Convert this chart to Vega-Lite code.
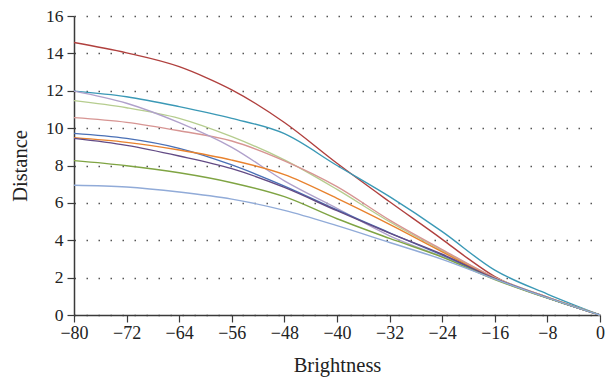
{
  "$schema": "https://vega.github.io/schema/vega-lite/v6.json",
  "autosize": "none",
  "width": 526,
  "height": 299,
  "padding": {"left": 74, "top": 16, "right": 8, "bottom": 70},
  "background": "white",
  "config": {
    "view": {"stroke": null},
    "font": "Liberation Serif"
  },
  "data": {
    "values": [
      {"s": "a", "x": -80, "y": 14.58}, {"s": "a", "x": -72, "y": 14.03}, {"s": "a", "x": -64, "y": 13.29}, {"s": "a", "x": -60, "y": 12.72}, {"s": "a", "x": -56, "y": 12.05}, {"s": "a", "x": -48, "y": 10.3}, {"s": "a", "x": -40, "y": 8.12}, {"s": "a", "x": -32, "y": 6.06}, {"s": "a", "x": -24, "y": 4.05}, {"s": "a", "x": -20, "y": 3.0}, {"s": "a", "x": -16, "y": 2.05}, {"s": "a", "x": -8, "y": 0.95}, {"s": "a", "x": 0, "y": 0},
      {"s": "b", "x": -80, "y": 11.98}, {"s": "b", "x": -72, "y": 11.68}, {"s": "b", "x": -64, "y": 11.15}, {"s": "b", "x": -56, "y": 10.52}, {"s": "b", "x": -48, "y": 9.7}, {"s": "b", "x": -40, "y": 8.0}, {"s": "b", "x": -32, "y": 6.33}, {"s": "b", "x": -24, "y": 4.46}, {"s": "b", "x": -16, "y": 2.4}, {"s": "b", "x": -8, "y": 1.12}, {"s": "b", "x": 0, "y": 0},
      {"s": "c", "x": -80, "y": 11.47}, {"s": "c", "x": -72, "y": 11.09}, {"s": "c", "x": -64, "y": 10.52}, {"s": "c", "x": -56, "y": 9.54}, {"s": "c", "x": -48, "y": 8.3}, {"s": "c", "x": -40, "y": 6.72}, {"s": "c", "x": -32, "y": 4.99}, {"s": "c", "x": -24, "y": 3.45}, {"s": "c", "x": -16, "y": 2.0}, {"s": "c", "x": -8, "y": 0.95}, {"s": "c", "x": 0, "y": 0},
      {"s": "d", "x": -80, "y": 10.56}, {"s": "d", "x": -72, "y": 10.31}, {"s": "d", "x": -64, "y": 9.86}, {"s": "d", "x": -56, "y": 9.31}, {"s": "d", "x": -48, "y": 8.25}, {"s": "d", "x": -40, "y": 6.87}, {"s": "d", "x": -32, "y": 5.08}, {"s": "d", "x": -24, "y": 3.5}, {"s": "d", "x": -16, "y": 2.0}, {"s": "d", "x": -8, "y": 0.95}, {"s": "d", "x": 0, "y": 0},
      {"s": "e", "x": -80, "y": 11.98}, {"s": "e", "x": -72, "y": 11.33}, {"s": "e", "x": -64, "y": 10.29}, {"s": "e", "x": -56, "y": 8.97}, {"s": "e", "x": -48, "y": 7.18}, {"s": "e", "x": -40, "y": 5.71}, {"s": "e", "x": -32, "y": 4.24}, {"s": "e", "x": -24, "y": 3.12}, {"s": "e", "x": -16, "y": 1.95}, {"s": "e", "x": -8, "y": 0.92}, {"s": "e", "x": 0, "y": 0},
      {"s": "f", "x": -80, "y": 9.72}, {"s": "f", "x": -72, "y": 9.45}, {"s": "f", "x": -64, "y": 8.92}, {"s": "f", "x": -56, "y": 8.03}, {"s": "f", "x": -48, "y": 6.9}, {"s": "f", "x": -40, "y": 5.62}, {"s": "f", "x": -32, "y": 4.4}, {"s": "f", "x": -24, "y": 3.2}, {"s": "f", "x": -16, "y": 1.95}, {"s": "f", "x": -8, "y": 0.92}, {"s": "f", "x": 0, "y": 0},
      {"s": "g", "x": -80, "y": 9.49}, {"s": "g", "x": -72, "y": 9.24}, {"s": "g", "x": -64, "y": 8.83}, {"s": "g", "x": -56, "y": 8.29}, {"s": "g", "x": -48, "y": 7.51}, {"s": "g", "x": -40, "y": 6.24}, {"s": "g", "x": -32, "y": 4.85}, {"s": "g", "x": -24, "y": 3.38}, {"s": "g", "x": -16, "y": 1.95}, {"s": "g", "x": -8, "y": 0.92}, {"s": "g", "x": 0, "y": 0},
      {"s": "h", "x": -80, "y": 9.45}, {"s": "h", "x": -72, "y": 9.08}, {"s": "h", "x": -64, "y": 8.51}, {"s": "h", "x": -56, "y": 7.83}, {"s": "h", "x": -48, "y": 6.83}, {"s": "h", "x": -40, "y": 5.58}, {"s": "h", "x": -32, "y": 4.38}, {"s": "h", "x": -24, "y": 3.25}, {"s": "h", "x": -16, "y": 1.95}, {"s": "h", "x": -8, "y": 0.92}, {"s": "h", "x": 0, "y": 0},
      {"s": "i", "x": -80, "y": 8.26}, {"s": "i", "x": -72, "y": 7.99}, {"s": "i", "x": -64, "y": 7.61}, {"s": "i", "x": -56, "y": 7.08}, {"s": "i", "x": -48, "y": 6.33}, {"s": "i", "x": -40, "y": 5.15}, {"s": "i", "x": -32, "y": 4.1}, {"s": "i", "x": -24, "y": 3.1}, {"s": "i", "x": -16, "y": 1.9}, {"s": "i", "x": -8, "y": 0.9}, {"s": "i", "x": 0, "y": 0},
      {"s": "j", "x": -80, "y": 6.94}, {"s": "j", "x": -72, "y": 6.85}, {"s": "j", "x": -64, "y": 6.58}, {"s": "j", "x": -56, "y": 6.2}, {"s": "j", "x": -48, "y": 5.6}, {"s": "j", "x": -40, "y": 4.78}, {"s": "j", "x": -32, "y": 3.88}, {"s": "j", "x": -24, "y": 2.98}, {"s": "j", "x": -16, "y": 1.92}, {"s": "j", "x": -8, "y": 0.92}, {"s": "j", "x": 0, "y": 0}
    ]
  },
  "mark": {"type": "line", "interpolate": "monotone", "strokeWidth": 1.4},
  "encoding": {
    "x": {
      "field": "x",
      "type": "quantitative",
      "scale": {"domain": [-80, 0], "nice": false},
      "axis": {
        "title": "Brightness",
        "values": [-80, -72, -64, -56, -48, -40, -32, -24, -16, -8, 0],
        "grid": false,
        "labelFlush": false,
        "labelOverlap": false,
        "labelFont": "Liberation Serif",
        "labelFontSize": 18,
        "labelColor": "#222",
        "titleFont": "Liberation Serif",
        "titleFontSize": 20.5,
        "titleFontWeight": "normal",
        "titleColor": "#222",
        "domainColor": "#3a3a3a",
        "domainWidth": 1.5,
        "tickColor": "#3a3a3a",
        "tickWidth": 1.2,
        "tickSize": 7,
        "labelPadding": 2,
        "titlePadding": 13
      }
    },
    "y": {
      "field": "y",
      "type": "quantitative",
      "scale": {"domain": [0, 16], "nice": false},
      "axis": {
        "title": "Distance",
        "values": [0, 2, 4, 6, 8, 10, 12, 14, 16],
        "grid": true,
        "gridColor": "#555",
        "gridDash": [1.5, 10.5],
        "gridWidth": 1.5,
        "labelFlush": false,
        "labelFont": "Liberation Serif",
        "labelFontSize": 17.5,
        "labelColor": "#222",
        "titleFont": "Liberation Serif",
        "titleFontSize": 20.5,
        "titleFontWeight": "normal",
        "titleColor": "#222",
        "domainColor": "#3a3a3a",
        "domainWidth": 1.5,
        "tickColor": "#3a3a3a",
        "tickWidth": 1.2,
        "tickSize": 7,
        "labelPadding": 4,
        "titlePadding": 15
      }
    },
    "color": {
      "field": "s",
      "type": "nominal",
      "legend": null,
      "scale": {
        "domain": ["a", "b", "c", "d", "e", "f", "g", "h", "i", "j"],
        "range": ["#b0403e", "#3b99b6", "#b6cd8f", "#d79593", "#b0a1cb", "#4a70b6", "#e8822e", "#634b85", "#7fa443", "#91abd8"]
      }
    }
  }
}
